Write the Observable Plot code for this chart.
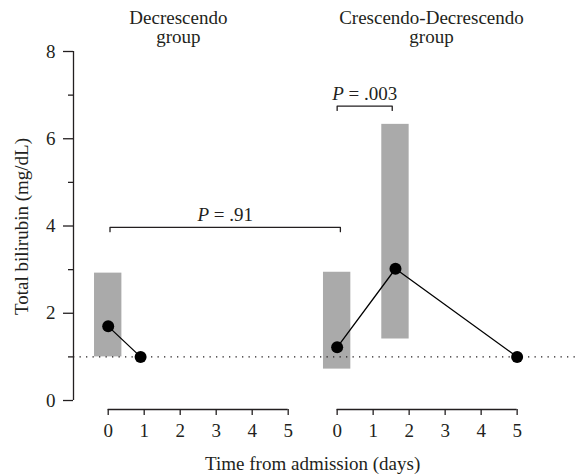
<!DOCTYPE html>
<html><head><meta charset="utf-8">
<script src="https://cdn.jsdelivr.net/npm/d3@7"></script>
<script src="https://cdn.jsdelivr.net/npm/@observablehq/plot@0.6"></script>
<style>body{margin:0;background:#fff}</style>
</head><body><div id="chart"></div>
<script>
// ---- data ----
const groupNames = ["Decrescendo\ngroup", "Crescendo-Decrescendo\ngroup"];
const groupOffset = [0, 6.36];           // where each group's day axis starts on the shared x scale
const titleDay = [1.95, 2.62];           // title centre, in days of each group
const dayTicks = [0, 1, 2, 3, 4, 5];
// median points
const ptGroup = [0, 0, 1, 1, 1];
const ptDay   = [0, 0.9, 0, 1.62, 5];
const ptValue = [1.7, 1.0, 1.22, 3.02, 1.0];
// interquartile bars
const barGroup = [0, 1, 1];
const barDay   = [0, 0, 1.62];
const barLow   = [1.0, 0.72, 1.41];
const barHigh  = [2.92, 2.94, 6.33];
// significance brackets
const pText   = ["P = .91", "P = .003"];
const pGroupA = [0, 1], pDayA = [0.05, 0];
const pGroupB = [1, 1], pDayB = [0.09, 1.53];
const pLevel  = [3.97, 6.75];
const yTicks = [0, 2, 4, 6, 8];
const yMinorTicks = [1, 3, 5, 7];
const normalLimit = 1;

// ---- derived tables ----
const X = (g, d) => groupOffset[g] + d;
const points = ptDay.map((d, i) => ({g: ptGroup[i], x: X(ptGroup[i], d), y: ptValue[i]}));
const barHalf = 0.38;
const bars = barDay.map((d, i) => ({x1: X(barGroup[i], d) - barHalf, x2: X(barGroup[i], d) + barHalf, y1: barLow[i], y2: barHigh[i]}));
const tickDrop = 0.1;
const brackets = pText.flatMap((t, i) => {
  const a = X(pGroupA[i], pDayA[i]), b = X(pGroupB[i], pDayB[i]);
  return [[a, pLevel[i] - tickDrop], [a, pLevel[i]], [b, pLevel[i]], [b, pLevel[i] - tickDrop]]
    .map(([x, y]) => ({k: i, x, y}));
});
const pLabels = pText.map((t, i) => ({t, x: (X(pGroupA[i], pDayA[i]) + X(pGroupB[i], pDayB[i])) / 2, y: pLevel[i]}));
const titles = groupNames.map((t, i) => ({t, x: X(i, titleDay[i])}));
const xMin = -0.964, xMax = 13.12;
const yBottom = -0.206;

const font = "'Liberation Serif', 'DejaVu Serif', serif";
const ink = "#231f20";

const plot = Plot.plot({
  width: 587,
  height: 475,
  marginLeft: 73,
  marginRight: 7,
  marginTop: 51,
  marginBottom: 66,
  style: {fontFamily: font, fontSize: "19px", color: ink, background: "#fff"},
  x: {domain: [xMin, xMax]},
  y: {domain: [yBottom, 8]},
  marks: [
    Plot.rect(bars, {x1: "x1", x2: "x2", y1: "y1", y2: "y2", fill: "#aaaaaa"}),
    Plot.ruleY([normalLimit], {stroke: ink, strokeWidth: 1.3, strokeDasharray: "1.3,5.2"}),
    Plot.line(points, {x: "x", y: "y", z: "g", stroke: "#000", strokeWidth: 1.3}),
    Plot.dot(points, {x: "x", y: "y", r: 6, fill: "#000"}),
    Plot.line(brackets, {x: "x", y: "y", z: "k", stroke: ink, strokeWidth: 1.3}),
    Plot.text(pLabels, {x: "x", y: "y", text: "t", lineAnchor: "bottom", dy: -6, fontSize: 19, fill: ink, className: "pval"}),
    // y axis
    Plot.ruleX([xMin], {y1: 0, y2: 8, stroke: ink, strokeWidth: 1.3}),
    Plot.axisY({ticks: yTicks, tickSize: 10, tickPadding: 8, fontSize: 19, stroke: ink, strokeWidth: 1.3, label: null}),
    Plot.axisY({ticks: yMinorTicks, tickSize: 5, tickFormat: () => "", stroke: ink, strokeWidth: 1.3, label: null}),
    Plot.text(["Total bilirubin (mg/dL)"], {frameAnchor: "left", rotate: -90, textAnchor: "middle", dx: -52, dy: -4, fontSize: 19, fill: ink}),
    // x axes
    Plot.ruleY(groupOffset, {y: () => yBottom, x1: d => d, x2: d => d + 5, stroke: ink, strokeWidth: 1.3}),
    ...groupOffset.map(o => Plot.axisX({ticks: dayTicks.map(d => d + o), tickFormat: d => String(Math.round(d - o)), tickSize: 6, tickPadding: 8, fontSize: 19, stroke: ink, strokeWidth: 1.3, label: null})),
    Plot.text(["Time from admission (days)"], {x: (groupOffset[0] + groupOffset[1] + 5) / 2, frameAnchor: "bottom", lineAnchor: "middle", dy: 54, fontSize: 19, fill: ink}),
    // group titles
    Plot.text(titles, {x: "x", text: "t", frameAnchor: "top", lineAnchor: "top", dy: -41, lineHeight: 1.0, fontSize: 19, fill: ink})
  ]
});
document.getElementById("chart").appendChild(plot);
d3.select(plot).selectAll("g.pval text").each(function() {
  const t = this.textContent;
  const rest = t.replace(/^P/, "");
  this.textContent = "";
  d3.select(this).append("tspan").attr("font-style", "italic").text("P");
  d3.select(this).append("tspan").text(rest);
});
</script>
</body></html>
